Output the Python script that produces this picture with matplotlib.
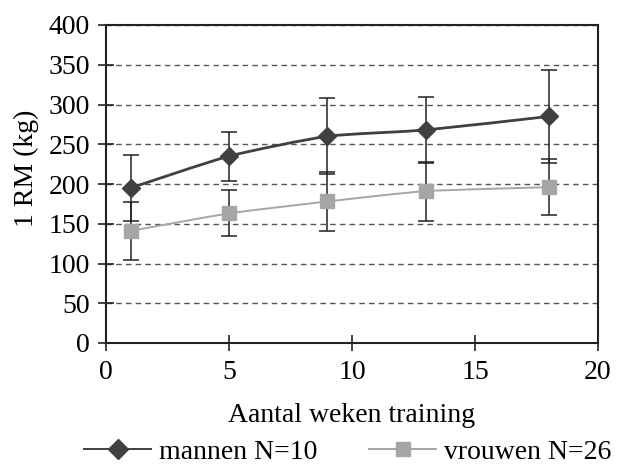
import numpy as np
import matplotlib
matplotlib.use('Agg')
import matplotlib.pyplot as plt
from matplotlib.path import Path
from matplotlib.patches import PathPatch

plt.rcParams['font.family'] = ['Liberation Serif', 'DejaVu Serif']

weken = [1, 5, 9, 13, 18]
mannen = [195, 235, 260, 268, 285]
mannen_sd = [41, 31, 48, 42, 58]
vrouwen = [141, 163, 178, 191, 196]
vrouwen_sd = [36, 29, 37, 37, 35]

c_man = '#404040'
c_vrouw = '#a6a6a6'
fs = 20


def smooth_path(x, y, t=0.3):
    # gladde lijn zoals in Excel: Bezier met controlepunten uit de buren
    x = np.asarray(x, float)
    y = np.asarray(y, float)
    verts = [(x[0], y[0])]
    codes = [Path.MOVETO]
    n = len(x)
    for i in range(n - 1):
        x0, y0 = (x[i - 1], y[i - 1]) if i > 0 else (x[i], y[i])
        x3, y3 = (x[i + 2], y[i + 2]) if i + 2 < n else (x[i + 1], y[i + 1])
        c1 = (x[i] + (x[i + 1] - x0) * t / 3, y[i] + (y[i + 1] - y0) * t / 3)
        c2 = (x[i + 1] - (x3 - x[i]) * t / 3, y[i + 1] - (y3 - y[i]) * t / 3)
        verts += [c1, c2, (x[i + 1], y[i + 1])]
        codes += [Path.CURVE4] * 3
    return Path(verts, codes)


W, H = 622, 470
fig = plt.figure(figsize=(W / 100, H / 100), dpi=100)
ax = fig.add_axes([106 / W, 1 - 343 / H, 492 / W, 318 / H])

ax.add_patch(PathPatch(smooth_path(weken, mannen), fill=False, ec=c_man, lw=2.0, zorder=3))
ax.add_patch(PathPatch(smooth_path(weken, vrouwen), fill=False, ec=c_vrouw, lw=1.4, zorder=3))

ax.errorbar(weken, mannen, yerr=mannen_sd, fmt='none', ecolor='#222222', elinewidth=1.1,
            capsize=6, capthick=1.1, zorder=4)
ax.errorbar(weken, vrouwen, yerr=vrouwen_sd, fmt='none', ecolor='#222222', elinewidth=1.1,
            capsize=6, capthick=1.1, zorder=4)

ax.plot(weken, mannen, ls='none', marker='D', ms=9.5, color=c_man, zorder=5)
ax.plot(weken, vrouwen, ls='none', marker='s', ms=9.5, color=c_vrouw, zorder=5)

# legenda-handles
h1, = ax.plot([], [], color=c_man, lw=1.4, marker='D', ms=10)
h2, = ax.plot([], [], color=c_vrouw, lw=1.4, marker='s', ms=9.5)

ax.set_xlim(0, 20)
ax.set_ylim(0, 400)
ax.set_xticks([0, 5, 10, 15, 20])
ax.set_yticks(range(0, 401, 50))
ax.yaxis.grid(True, ls=(0, (4, 3)), color='#555555', lw=1.0)
ax.set_axisbelow(True)
for s in ax.spines.values():
    s.set_linewidth(1.5)
    s.set_color('#222222')
ax.tick_params(direction='inout', length=11, width=1.2, labelsize=fs, color='#222222')
ax.tick_params(axis='y', pad=6)
ax.tick_params(axis='x', pad=7)

fig.text(352 / W, 1 - 415 / H, 'Aantal weken training', fontsize=fs, ha='center', va='center')
fig.text(26 / W, 1 - 168 / H, '1 RM (kg)', fontsize=fs, ha='center', va='center', rotation=90)

fig.legend([h1, h2], ['mannen N=10', 'vrouwen N=26'], loc='center', bbox_to_anchor=(348 / W, 1 - 452 / H),
           ncol=2, frameon=False, fontsize=fs, handlelength=2.4, columnspacing=1.85, handletextpad=0.3,
           borderpad=0, borderaxespad=0)

fig.savefig('out.png', dpi=100)
